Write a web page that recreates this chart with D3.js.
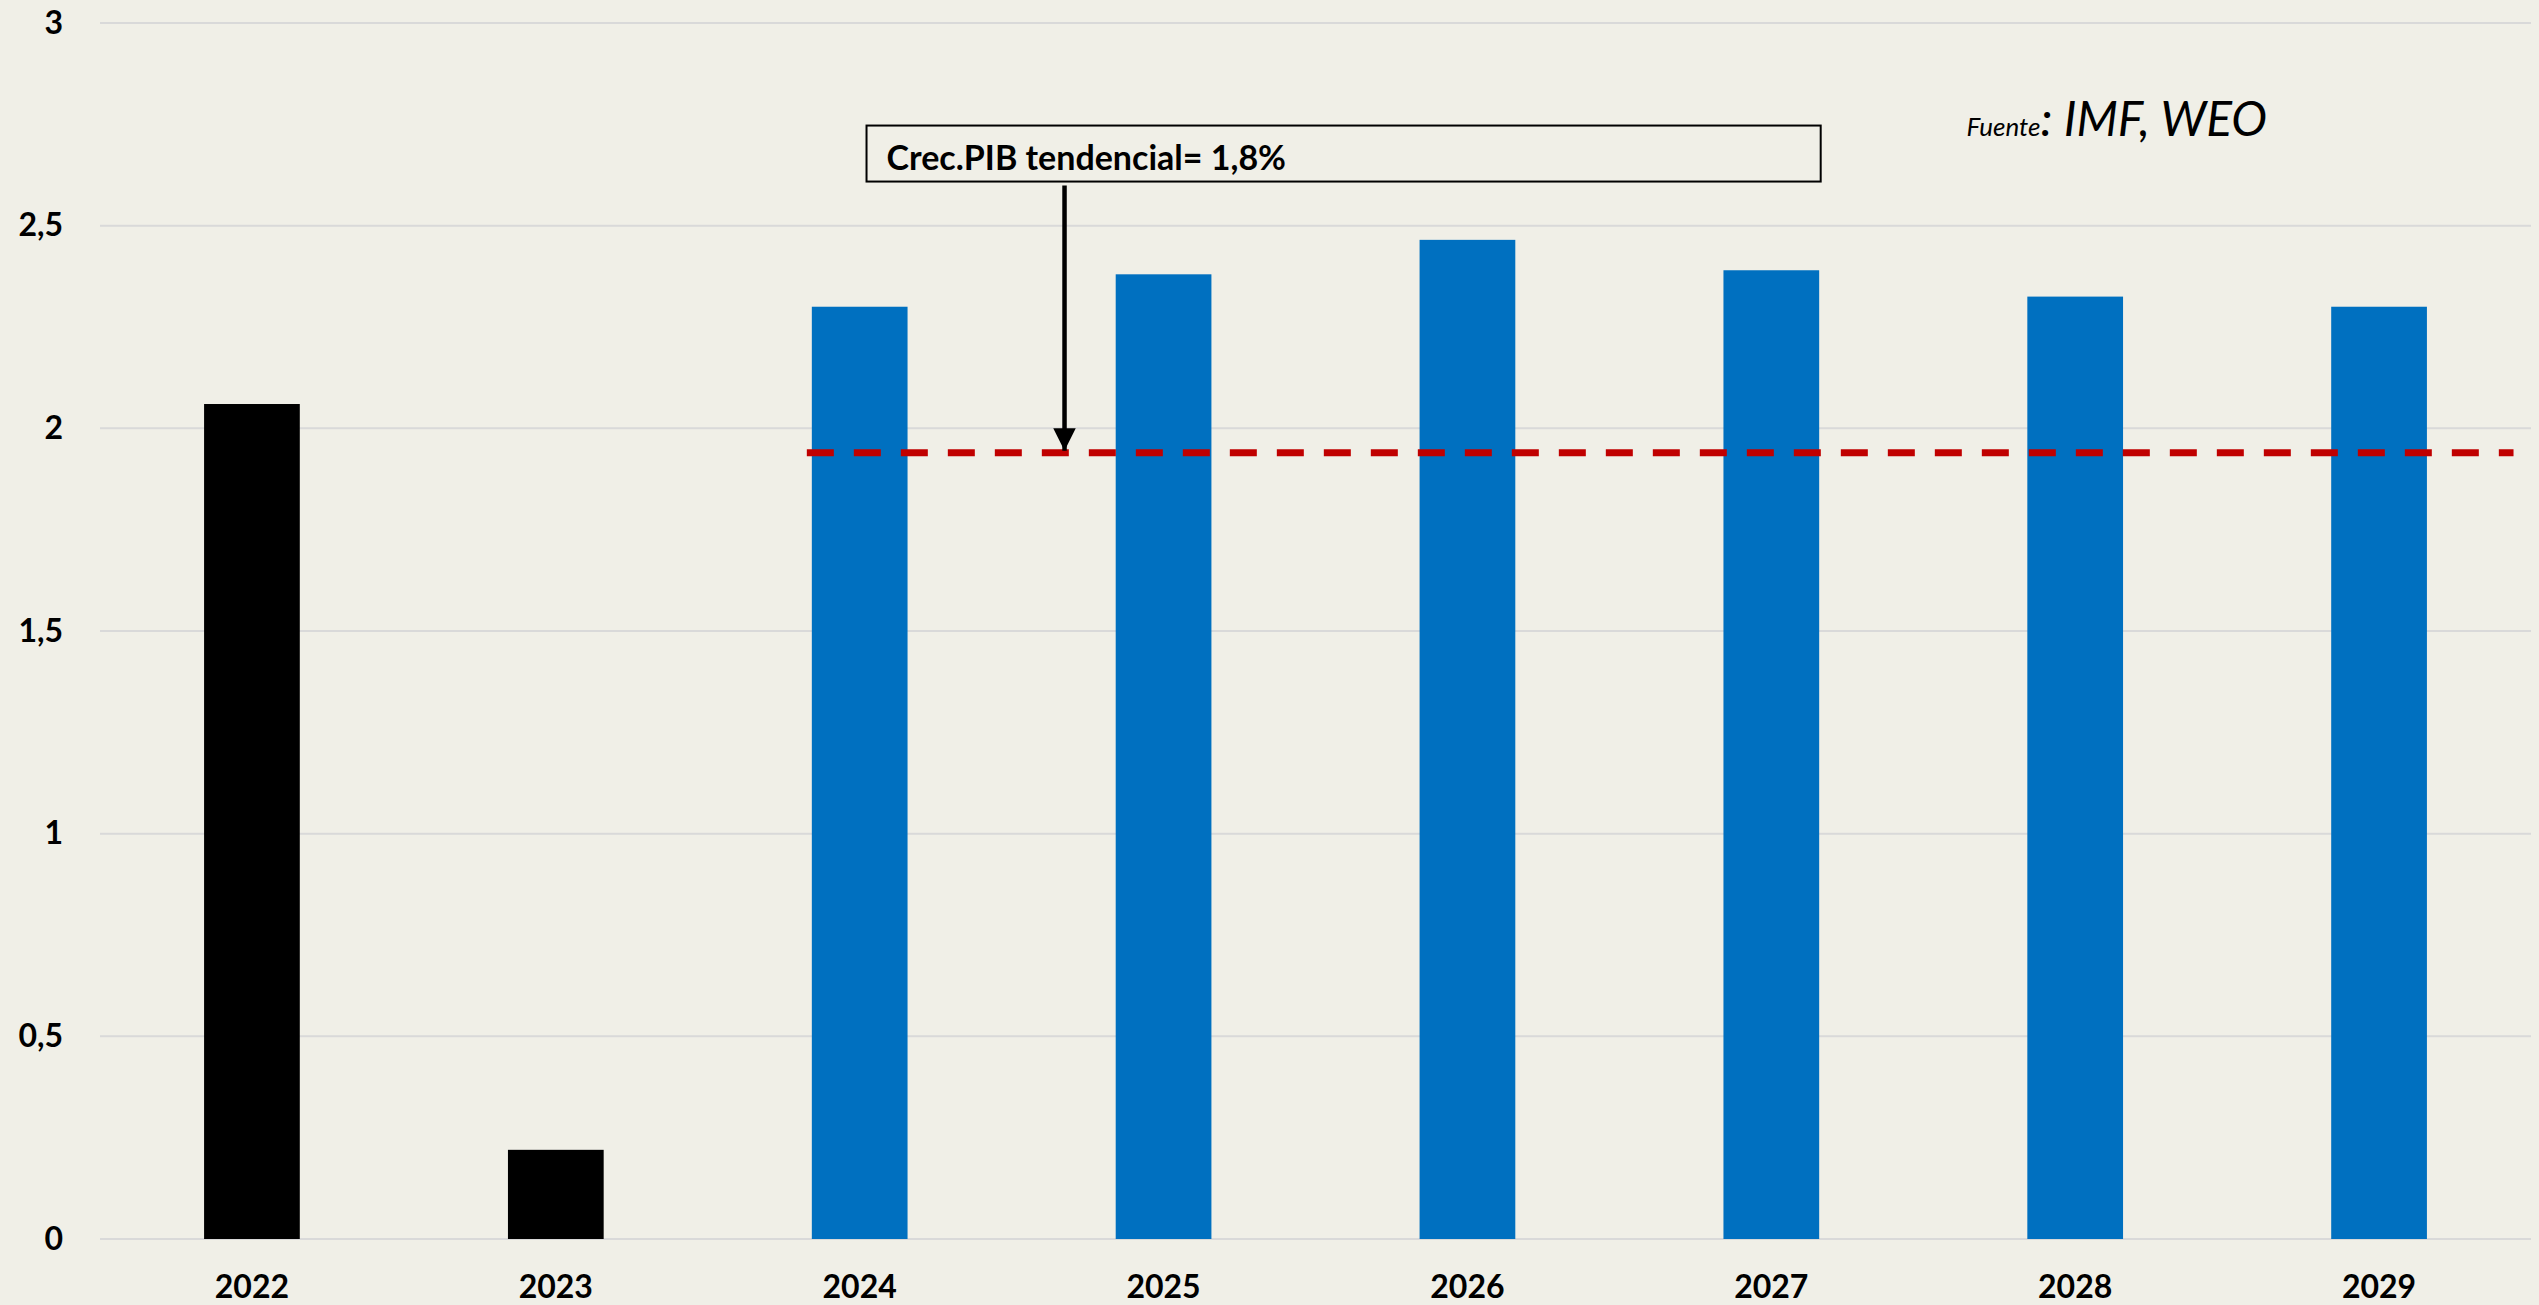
<!DOCTYPE html>
<html>
<head>
<meta charset="utf-8">
<script src="https://cdn.jsdelivr.net/npm/d3@7"></script>
<style>
  html, body { margin: 0; padding: 0; background: #f0efe7; }
  svg text { font-family: Lato, "Open Sans", sans-serif; }
</style>
</head>
<body>
<div id="chart"></div>
<script>
// data
var years = ["2022", "2023", "2024", "2025", "2026", "2027", "2028", "2029"];
var growth = [2.06, 0.22, 2.30, 2.38, 2.465, 2.39, 2.325, 2.30];
var forecastFrom = "2024";
var trendValue = 1.94;
var yTicks = [0, 0.5, 1, 1.5, 2, 2.5, 3];
var noteText = "Crec.PIB tendencial= 1,8%";
var sourceSmall = "Fuente";
var sourceBig = ": IMF, WEO";

var W = 2539, H = 1305;
var margin = {top: 23, right: 8, bottom: 66, left: 100},
    width = W - margin.left - margin.right,
    height = H - margin.top - margin.bottom;

var svg = d3.select("#chart")
  .append("svg")
    .attr("width", W)
    .attr("height", H)
    .style("display", "block")
    .style("background", "#f0efe7");

var g = svg.append("g")
    .attr("transform", "translate(" + margin.left + "," + margin.top + ")");

var x = d3.scaleBand()
    .domain(years)
    .range([0, width])
    .paddingInner(0.685)
    .paddingOuter(0.3425);

var y = d3.scaleLinear()
    .domain([0, 3])
    .range([height, 0]);

// gridlines
g.append("g")
  .selectAll("line")
  .data(yTicks)
  .enter()
  .append("line")
    .attr("x1", 0)
    .attr("x2", width)
    .attr("y1", function(d) { return y(d); })
    .attr("y2", function(d) { return y(d); })
    .attr("stroke", "#d9d9d9")
    .attr("stroke-width", 2);

// y axis labels
var yAxis = d3.axisLeft(y)
    .tickValues(yTicks)
    .tickSize(0)
    .tickPadding(37)
    .tickFormat(function(d) { return String(d).replace(".", ","); });

var ya = g.append("g").call(yAxis);
ya.select(".domain").remove();
ya.selectAll("text")
    .attr("font-size", "32px")
    .attr("font-weight", "bold")
    .attr("fill", "#000")
    .attr("font-family", "Lato, sans-serif");

// x axis labels
var xAxis = d3.axisBottom(x).tickSize(0).tickPadding(36);
var xa = g.append("g")
    .attr("transform", "translate(0," + height + ")")
    .call(xAxis);
xa.select(".domain").remove();
xa.selectAll("text")
    .attr("font-size", "32px")
    .attr("font-weight", "bold")
    .attr("fill", "#000")
    .attr("font-family", "Lato, sans-serif");

// bars
g.selectAll("rect.bar")
  .data(years)
  .enter()
  .append("rect")
    .attr("class", "bar")
    .attr("x", function(d) { return x(d); })
    .attr("y", function(d, i) { return y(growth[i]); })
    .attr("width", x.bandwidth())
    .attr("height", function(d, i) { return height - y(growth[i]); })
    .attr("fill", function(d) { return +d >= +forecastFrom ? "#0070c0" : "#000000"; });

// trend line
var lastYear = years[years.length - 1];
g.append("line")
    .attr("x1", x(forecastFrom) - 5)
    .attr("x2", x(lastYear) + x.step() * 0.6)
    .attr("y1", y(trendValue))
    .attr("y2", y(trendValue))
    .attr("stroke", "#c00000")
    .attr("stroke-width", 7)
    .attr("stroke-dasharray", "27,20");

// annotation box + arrow
var boxX = x("2024") + x.step() * 0.18,
    boxW = x.step() * 3.14,
    boxY = y(2.747),
    boxH = 56;

g.append("rect")
    .attr("x", boxX)
    .attr("y", boxY)
    .attr("width", boxW)
    .attr("height", boxH)
    .attr("fill", "#f0efe7")
    .attr("stroke", "#000")
    .attr("stroke-width", 2);

g.append("text")
    .attr("x", boxX + 20)
    .attr("y", boxY + 44)
    .attr("font-size", "34px")
    .attr("font-weight", "bold")
    .attr("fill", "#000")
    .text(noteText);

var arrowX = boxX + 198;
svg.append("defs").append("marker")
    .attr("id", "head")
    .attr("viewBox", "0 0 10 10")
    .attr("refX", 10)
    .attr("refY", 5)
    .attr("markerWidth", 5)
    .attr("markerHeight", 5)
    .attr("markerUnits", "strokeWidth")
    .attr("orient", "auto")
  .append("path")
    .attr("d", "M0,0 L10,5 L0,10 z")
    .attr("fill", "#000");

g.append("line")
    .attr("x1", arrowX)
    .attr("x2", arrowX)
    .attr("y1", boxY + boxH + 4)
    .attr("y2", y(trendValue) - 2)
    .attr("stroke", "#000")
    .attr("stroke-width", 4.5)
    .attr("marker-end", "url(#head)");

// source
var src = g.append("text")
    .attr("x", x("2028") - x.step() * 0.2)
    .attr("y", y(2.72))
    .attr("font-style", "italic")
    .attr("fill", "#000");
src.append("tspan").attr("font-size", "26px").text(sourceSmall);
src.append("tspan").attr("font-size", "48px").text(sourceBig);
</script>
</body>
</html>
